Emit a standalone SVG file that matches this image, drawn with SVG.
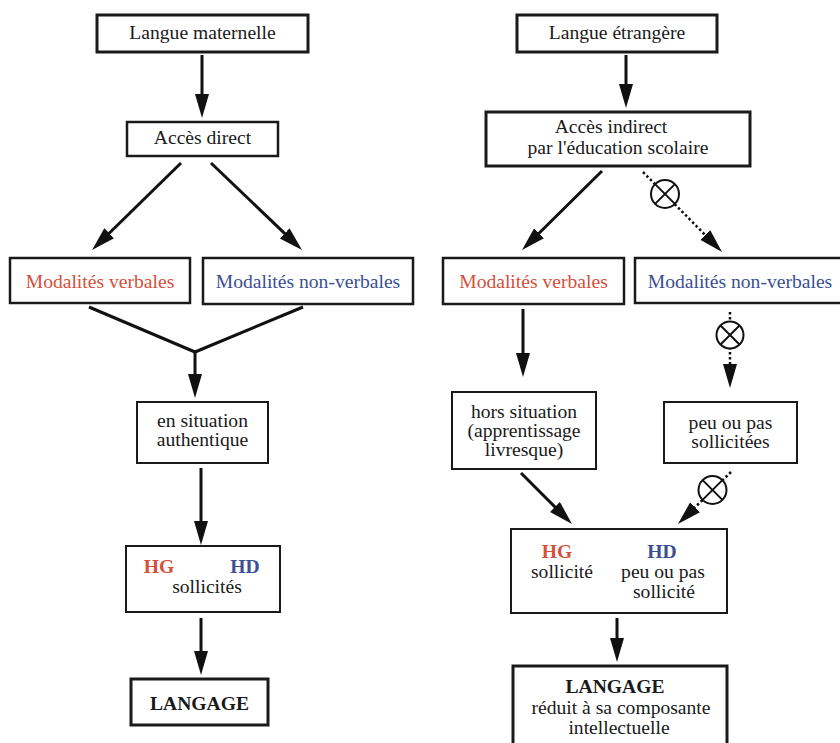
<svg xmlns="http://www.w3.org/2000/svg" width="840" height="743" viewBox="0 0 840 743">
  <style>
    text { font-family: "Liberation Serif", "Times New Roman", serif; font-size: 19.6px; fill: #1a1a1a; text-anchor: middle; }
    .box { fill: #ffffff; stroke: #1a1a1a; stroke-width: 2; }
    .thick { stroke-width: 3; }
    .mid { stroke-width: 2.5; }
    .red { fill: #d4503a; }
    .blue { fill: #3b4f92; }
    .b { font-weight: bold; }
    .edge { fill: none; stroke: #111; stroke-width: 3; }
    .dot { fill: none; stroke: #111; stroke-width: 2.5; stroke-dasharray: 2.5 2.5; }
    .nope { fill: #ffffff; stroke: #111; stroke-width: 2; }
  </style>
  <defs>
    <marker id="head" markerUnits="userSpaceOnUse" markerWidth="26" markerHeight="16" refX="14" refY="7" orient="auto">
      <path d="M0,0 L24,7 L0,14 z" fill="#111"/>
    </marker>
  </defs>
  <rect width="840" height="743" fill="#ffffff"/>

  <!-- connectors -->
  <g id="connectors">
    <!-- mother tongue branch -->
    <line class="edge" x1="202" y1="55" x2="202" y2="108" marker-end="url(#head)"/>
    <line class="edge" x1="181" y1="163" x2="99.2" y2="243" marker-end="url(#head)"/>
    <line class="edge" x1="211" y1="163" x2="294.8" y2="243.1" marker-end="url(#head)"/>
    <path class="edge" d="M89,307 L195,352 L303,307"/>
    <line class="edge" x1="195" y1="351" x2="195" y2="388" marker-end="url(#head)"/>
    <line class="edge" x1="201" y1="468" x2="201" y2="535" marker-end="url(#head)"/>
    <line class="edge" x1="201" y1="618" x2="201" y2="665" marker-end="url(#head)"/>

    <!-- foreign language branch -->
    <line class="edge" x1="626" y1="55" x2="626" y2="98" marker-end="url(#head)"/>
    <line class="edge" x1="602" y1="171" x2="529.1" y2="243" marker-end="url(#head)"/>
    <line class="dot" x1="643" y1="172" x2="715" y2="244.9" marker-end="url(#head)"/>
    <line class="edge" x1="523" y1="309" x2="523" y2="367" marker-end="url(#head)"/>
    <line class="dot" x1="730" y1="312" x2="730" y2="378" marker-end="url(#head)"/>
    <line class="edge" x1="521" y1="473" x2="564.9" y2="516.9" marker-end="url(#head)"/>
    <line class="dot" x1="731" y1="472" x2="685.1" y2="517" marker-end="url(#head)"/>
    <line class="edge" x1="617" y1="618" x2="617" y2="652" marker-end="url(#head)"/>

    <!-- blocked-path symbols -->
    <g id="block1">
      <circle class="nope" cx="665" cy="194" r="14"/>
      <path class="nope" d="M655.1,184.1 L674.9,203.9 M674.9,184.1 L655.1,203.9"/>
    </g>
    <g id="block2">
      <circle class="nope" cx="730" cy="335" r="13.5"/>
      <path class="nope" d="M720.5,325.5 L739.5,344.5 M739.5,325.5 L720.5,344.5"/>
    </g>
    <g id="block3">
      <circle class="nope" cx="712.5" cy="490" r="14"/>
      <path class="nope" d="M702.6,480.1 L722.4,499.9 M722.4,480.1 L702.6,499.9"/>
    </g>
  </g>

  <!-- left column -->
  <g id="langue-maternelle">
    <rect class="box thick" x="97" y="15" width="211" height="37"/>
    <text x="202.5" y="39">Langue maternelle</text>
  </g>
  <g id="acces-direct">
    <rect class="box mid" x="127" y="122" width="151" height="34"/>
    <text x="202.5" y="144">Accès direct</text>
  </g>
  <g id="modalites-verbales-1">
    <rect class="box mid" x="10" y="258" width="180" height="45"/>
    <text class="red" x="100" y="288">Modalités verbales</text>
  </g>
  <g id="modalites-non-verbales-1">
    <rect class="box mid" x="203" y="258" width="210" height="46"/>
    <text class="blue" x="308" y="288">Modalités non-verbales</text>
  </g>
  <g id="situation-authentique">
    <rect class="box" x="137" y="402" width="131" height="61"/>
    <text x="202.5" y="427">en situation</text>
    <text x="202.5" y="446">authentique</text>
  </g>
  <g id="hemispheres-1">
    <rect class="box" x="126" y="546" width="154" height="66"/>
    <text class="red b" x="159" y="573">HG</text>
    <text class="blue b" x="245" y="573">HD</text>
    <text x="207" y="593">sollicités</text>
  </g>
  <g id="langage-1">
    <rect class="box thick" x="131" y="679" width="137" height="46"/>
    <text class="b" x="199.5" y="710">LANGAGE</text>
  </g>

  <!-- right column -->
  <g id="langue-etrangere">
    <rect class="box thick" x="517" y="15" width="200" height="37"/>
    <text x="617" y="39">Langue étrangère</text>
  </g>
  <g id="acces-indirect">
    <rect class="box thick" x="486" y="112" width="264" height="54"/>
    <text x="611" y="133">Accès indirect</text>
    <text x="618" y="154">par l'éducation scolaire</text>
  </g>
  <g id="modalites-verbales-2">
    <rect class="box mid" x="443" y="258" width="181" height="46"/>
    <text class="red" x="533.5" y="288">Modalités verbales</text>
  </g>
  <g id="modalites-non-verbales-2">
    <rect class="box mid" x="635" y="258" width="212" height="45"/>
    <text class="blue" x="740" y="288">Modalités non-verbales</text>
  </g>
  <g id="hors-situation">
    <rect class="box" x="452" y="392" width="144" height="77"/>
    <text x="524" y="418">hors situation</text>
    <text x="524" y="437">(apprentissage</text>
    <text x="524" y="456">livresque)</text>
  </g>
  <g id="peu-sollicitees">
    <rect class="box" x="664" y="402" width="133" height="61"/>
    <text x="730.5" y="429">peu ou pas</text>
    <text x="730.5" y="448">sollicitées</text>
  </g>
  <g id="hemispheres-2">
    <rect class="box" x="511" y="529" width="216" height="84"/>
    <text class="red b" x="557" y="558">HG</text>
    <text class="blue b" x="662" y="558">HD</text>
    <text x="562" y="578">sollicité</text>
    <text x="663" y="578">peu ou pas</text>
    <text x="664" y="598">sollicité</text>
  </g>
  <g id="langage-2">
    <rect class="box thick" x="513" y="666" width="214" height="90"/>
    <text class="b" x="615" y="693">LANGAGE</text>
    <text x="621" y="714">réduit à sa composante</text>
    <text x="619" y="734">intellectuelle</text>
  </g>
</svg>
